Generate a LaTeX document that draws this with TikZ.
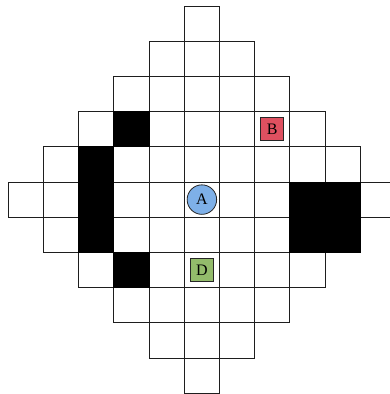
\documentclass[tikz,border=0pt]{standalone}
\usepackage{fontspec}
\setmainfont{Liberation Serif}
\definecolor{cola}{RGB}{126,176,232}
\definecolor{colb}{RGB}{222,80,96}
\definecolor{cold}{RGB}{147,187,107}
\definecolor{gridc}{RGB}{30,30,30}
\tikzset{
  cell/.style={draw=gridc, line width=1pt},
  wall/.style={draw=black, fill=black, line width=1pt},
  agent/.style={circle, draw=black!85, line width=0.8pt, fill=cola, minimum size=29.5pt, inner sep=0pt, font=\fontsize{16}{16}\selectfont},
  goal/.style={rectangle, draw=black!85, line width=0.8pt, minimum size=23pt, inner sep=0pt, font=\fontsize{16}{16}\selectfont},
}
\begin{document}
\begin{tikzpicture}[x=1pt,y=-1pt]
\useasboundingbox (0,0) rectangle (390,394);
\def\cs{35.2}
\def\cx{201.9}
\def\cy{199.6}
\foreach \dx in {-5,...,5} {
  \foreach \dy in {-5,...,5} {
    \pgfmathtruncatemacro\dd{abs(\dx)+abs(\dy)}
    \ifnum\dd<6
      \draw[cell] ({\cx+(\dx-0.5)*\cs},{\cy+(\dy-0.5)*\cs}) rectangle ++(\cs,\cs);
    \fi
  }
}
\foreach \dx/\dy in {-2/-2,-3/-1,-3/0,-3/1,-2/2,3/0,4/0,3/1,4/1} {
  \draw[wall] ({\cx+(\dx-0.5)*\cs},{\cy+(\dy-0.5)*\cs}) rectangle ++(\cs,\cs);
}
\node[agent] (A) at (\cx,\cy) {A};
\node[goal, fill=colb] (B) at ({\cx+2*\cs},{\cy-2*\cs}) {B};
\node[goal, fill=cold] (D) at (\cx,{\cy+2*\cs}) {D};
\end{tikzpicture}
\end{document}
